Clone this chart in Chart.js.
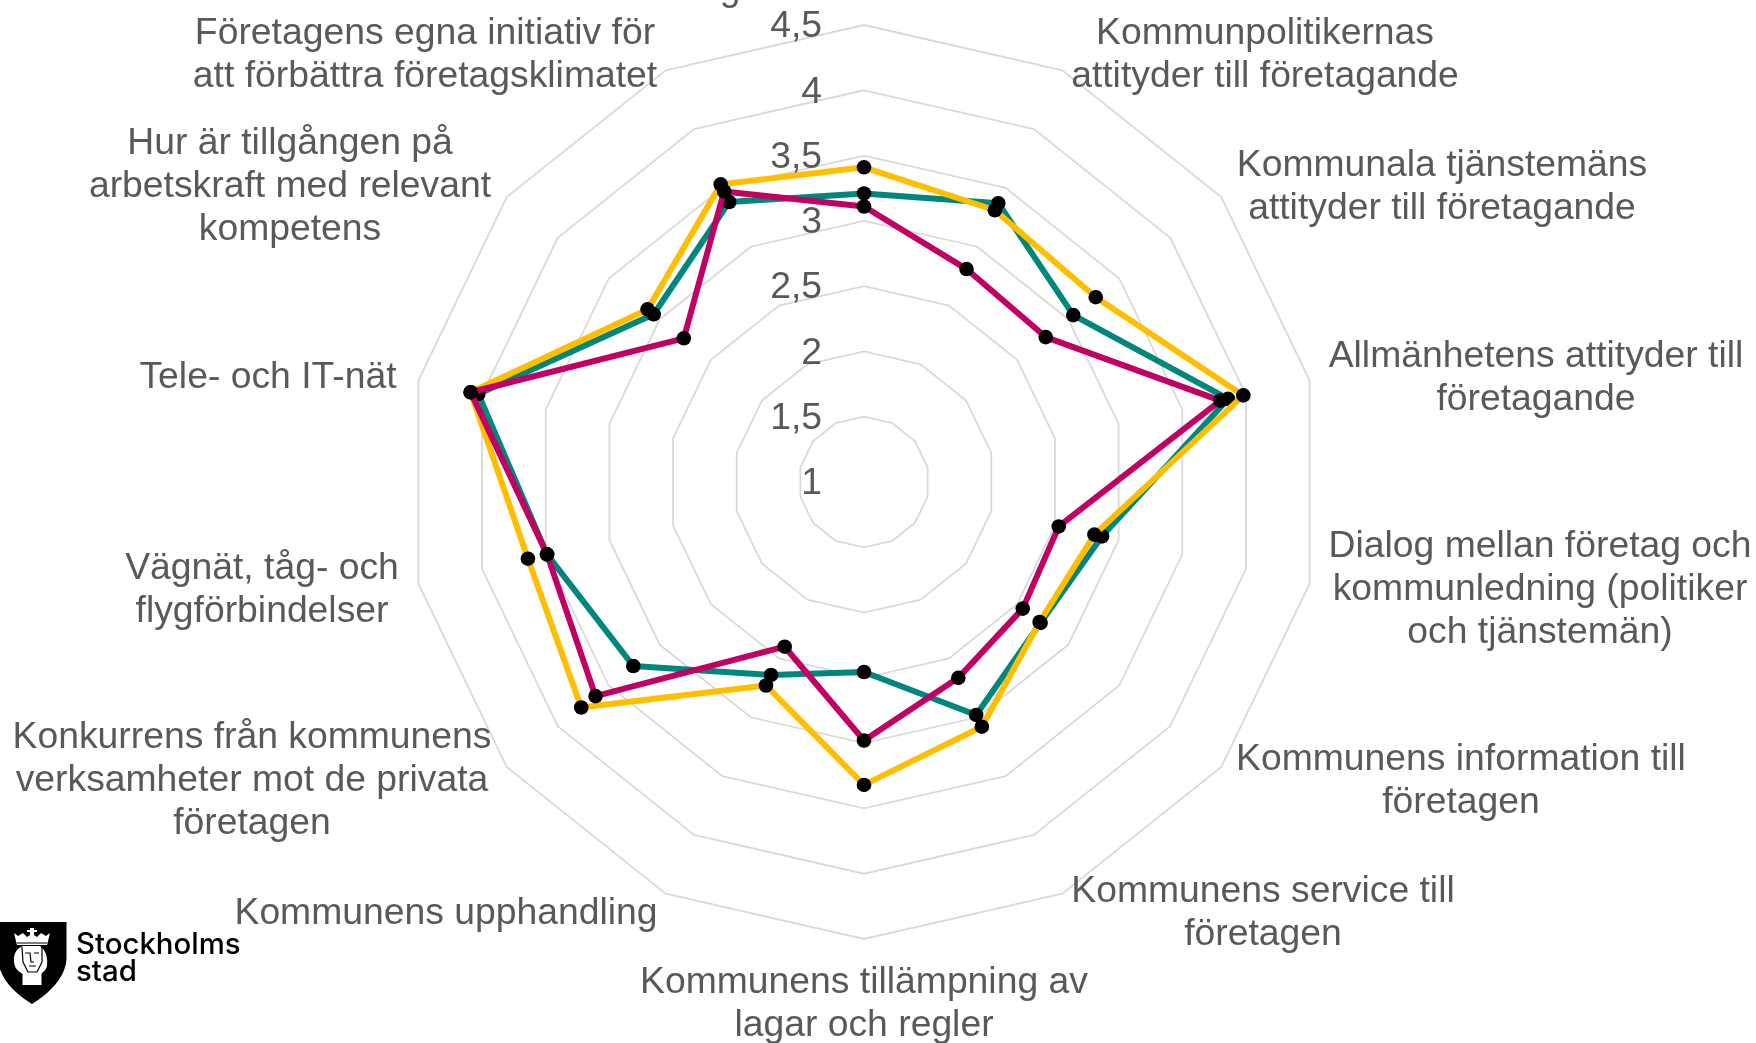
<!DOCTYPE html>
<html lang="sv">
<head>
<meta charset="utf-8">
<title>Företagsklimat</title>
<script src="https://cdn.jsdelivr.net/npm/chart.js@4"></script>
<style>
    html, body { margin: 0; padding: 0; background: #ffffff; }
    canvas { display: block; }
</style>
</head>
<body>
<canvas id="myChart" width="1756" height="1043"></canvas>
<script>
// the top category is cropped in the picture, only the tail of a "g" is left of it
const categories = [
    ["g"],
    ["Kommunpolitikernas", "attityder till företagande"],
    ["Kommunala tjänstemäns", "attityder till företagande"],
    ["Allmänhetens attityder till", "företagande"],
    ["Dialog mellan företag och", "kommunledning (politiker", "och tjänstemän)"],
    ["Kommunens information till", "företagen"],
    ["Kommunens service till", "företagen"],
    ["Kommunens tillämpning av", "lagar och regler"],
    ["Kommunens upphandling"],
    ["Konkurrens från kommunens", "verksamheter mot de privata", "företagen"],
    ["Vägnät, tåg- och", "flygförbindelser"],
    ["Tele- och IT-nät"],
    ["Hur är tillgången på", "arbetskraft med relevant", "kompetens"],
    ["Företagens egna initiativ för", "att förbättra företagsklimatet"]
];
const tealValues =    [3.21, 3.37, 3.05, 3.86, 2.87, 2.73, 2.98, 2.455, 2.64, 3.26, 3.49, 4.03, 3.06, 3.38];
const yellowValues =  [3.41, 3.31, 3.27, 3.98, 2.81, 2.72, 3.08, 3.32, 2.73, 3.77, 3.64, 4.09, 3.12, 3.53];
const magentaValues = [3.11, 2.81, 2.78, 3.80, 2.53, 2.555, 2.665, 2.98, 2.40, 3.63, 3.49, 4.09, 2.765, 3.47];
const tickLabels = ["1", "1,5", "2", "2,5", "3", "3,5", "4", "4,5"];

// where the text boxes sit in the picture: centre x, y of first line
const labelPlaces = [
    [730, -10], [1265, 34], [1442, 166], [1536, 357], [1540, 547], [1461, 760], [1263, 892],
    [864, 983], [446, 914], [252, 738], [262, 569], [268, 378], [290, 144], [425, 34]
];
const textColor = '#595959';
const labelFont = '37.3px "Liberation Sans", Arial, sans-serif';

const textPlugin = {
    id: 'textPlugin',
    afterDraw(chart) {
        const ctx = chart.ctx;
        const scale = chart.scales.r;
        ctx.save();
        ctx.fillStyle = textColor;
        ctx.font = labelFont;
        ctx.textBaseline = 'middle';
        // ticks, left of the axis and not on it
        ctx.textAlign = 'right';
        scale.ticks.forEach((tick, i) => {
            ctx.fillText(tickLabels[i], scale.xCenter - 42, scale.yCenter + 2 - scale.getDistanceFromCenterForValue(tick.value));
        });
        ctx.textAlign = 'center';
        categories.forEach((lines, i) => {
            lines.forEach((line, n) => {
                ctx.fillText(line, labelPlaces[i][0], labelPlaces[i][1] + n * 42.8);
            });
        });
        ctx.restore();
        drawLogo(ctx);
    }
};

function drawLogo(ctx) {
    ctx.save();
    ctx.translate(0, 900);
    ctx.fillStyle = '#000000';
    ctx.fill(new Path2D('M0 22 H66.5 V58 C66 78 48 94 32 104 C16 94 0 80 -2 60 Z'));
    // head and hair
    ctx.fillStyle = '#ffffff';
    ctx.fill(new Path2D('M23 46 H40 C46 50 48 58 47 66 C46 71 42 72 41.5 74 V85 H22.5 V74 C21 72 15 71 14 62 C13 54 17 48 23 46 Z'));
    // crown
    ctx.fill(new Path2D('M14 33 L18 36 L23 33 L27 37 L30 35 V32 H27 V30 H30 V28 H34 V30 H37 V32 H34 V35 L37 37 L41 33 L46 36 L50 33 L47 45 H17 Z'));
    ctx.strokeStyle = '#000000';
    ctx.lineWidth = 1.2;
    ctx.beginPath();
    ctx.moveTo(22, 47); ctx.lineTo(23, 62); ctx.lineTo(28, 72); ctx.lineTo(37, 72); ctx.lineTo(42, 62); ctx.lineTo(42, 47);
    ctx.moveTo(17, 43); ctx.lineTo(47, 43);
    ctx.moveTo(25, 53); ctx.lineTo(30, 53); ctx.lineTo(31, 62); ctx.lineTo(34, 62);
    ctx.moveTo(34, 53); ctx.lineTo(39, 53);
    ctx.moveTo(29, 66); ctx.lineTo(36, 66);
    ctx.stroke();
    ctx.fillStyle = '#000000';
    ctx.textAlign = 'left';
    ctx.textBaseline = 'alphabetic';
    ctx.font = '500 29.4px Inter, sans-serif';
    ctx.fillText('Stockholms', 76, 54);
    ctx.fillText('stad', 76, 81);
    ctx.restore();
}

const data = {
    labels: categories.map(lines => lines.join(' ')),
    // last in the list is painted first
    datasets: [
        { label: 'Magenta', data: magentaValues, borderColor: '#c00063' },
        { label: 'Gul', data: yellowValues, borderColor: '#ffbf00' },
        { label: 'Teal', data: tealValues, borderColor: '#00867d' }
    ]
};

const config = {
    type: 'radar',
    data: data,
    plugins: [textPlugin],
    options: {
        responsive: false,
        animation: false,
        layout: { padding: { left: 0, right: 28, top: 25, bottom: 103 } },
        plugins: { legend: { display: false }, tooltip: { enabled: false } },
        elements: {
            line: { borderWidth: 6, tension: 0, fill: false, borderJoinStyle: 'round' },
            point: { radius: 7.3, backgroundColor: '#000000', borderWidth: 0 }
        },
        scales: {
            r: {
                min: 1,
                max: 4.5,
                ticks: { stepSize: 0.5, display: false },
                angleLines: { display: false },
                pointLabels: { display: false },
                grid: { color: '#d9d9d9', lineWidth: 1.8 }
            }
        }
    }
};

new Chart(document.getElementById('myChart'), config);
</script>
</body>
</html>
